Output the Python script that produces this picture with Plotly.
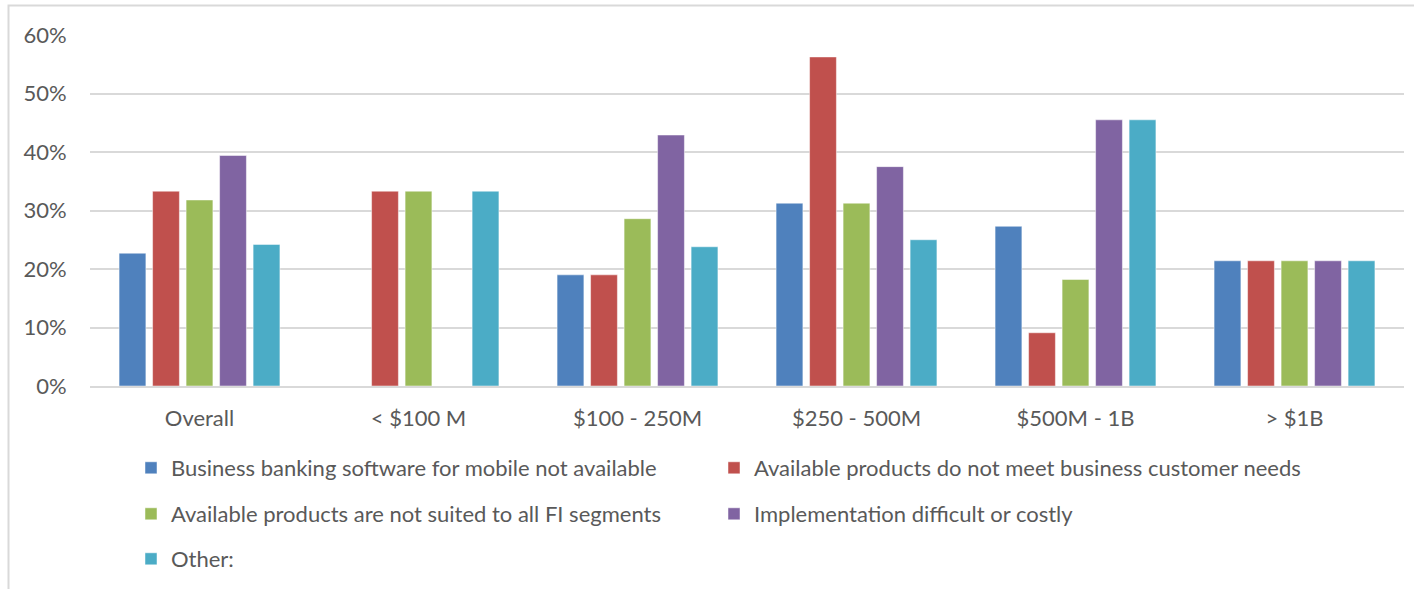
import plotly.graph_objects as go

# ---------------------------------------------------------------------------
# Data (percent of respondents)
# ---------------------------------------------------------------------------

CATEGORIES = ["Overall", "< $100 M", "$100 - 250M", "$250 - 500M", "$500M - 1B", "> $1B"]

SOFTWARE_NOT_AVAILABLE = [22.7, 0.0, 19.0, 31.25, 27.3, 21.4]
NOT_MEET_NEEDS = [33.3, 33.3, 19.0, 56.25, 9.1, 21.4]
NOT_SUITED = [31.8, 33.3, 28.6, 31.25, 18.2, 21.4]
IMPLEMENTATION = [39.4, 0.0, 42.9, 37.5, 45.5, 21.4]
OTHER = [24.2, 33.3, 23.8, 25.0, 45.5, 21.4]

SERIES_NAMES = [
    "Business banking software for mobile not available",
    "Available products do not meet business customer needs",
    "Available products are not suited to all FI segments",
    "Implementation difficult or costly",
    "Other:",
]
SERIES_VALUES = [SOFTWARE_NOT_AVAILABLE, NOT_MEET_NEEDS, NOT_SUITED, IMPLEMENTATION, OTHER]
SERIES_COLORS = ["#4F81BD", "#C0504D", "#9BBB59", "#8064A2", "#4BACC6"]

Y_TICKS = [0, 10, 20, 30, 40, 50, 60]

W, H = 1414, 589
FONT = "Lato"
TEXT = "#595959"
GRID = "#D9D9D9"
FS = 22

# legend entries laid out in two columns, three rows (pixel anchors of swatches)
LEGEND_SLOTS = [(147, 469), (730, 469), (147, 515), (730, 515), (147, 560)]

fig = go.Figure()
legends = {}
for i, (name, vals, color) in enumerate(zip(SERIES_NAMES, SERIES_VALUES, SERIES_COLORS)):
    key = "legend" if i == 0 else f"legend{i + 1}"
    fig.add_trace(go.Bar(
        x=CATEGORIES, y=vals, name=name,
        marker=dict(color=color, line=dict(width=0.8, color="rgba(255,255,255,0.6)")),
        legend=key,
    ))
    px_x, px_y = LEGEND_SLOTS[i]
    legends[key] = dict(
        xref="container", yref="container",
        x=(px_x - 16) / W, y=1 - (px_y - 1) / H,
        xanchor="left", yanchor="middle",
        font=dict(family=FONT, size=FS, color=TEXT),
        bgcolor="rgba(0,0,0,0)",
        itemclick=False, itemdoubleclick=False,
    )

fig.update_layout(
    width=W, height=H,
    paper_bgcolor="white", plot_bgcolor="white",
    font=dict(family=FONT, size=FS, color=TEXT),
    margin=dict(l=90, r=10, t=35, b=203, autoexpand=False),
    barmode="group",
    bargap=0.235,
    bargroupgap=0.2,
    showlegend=True,
    **legends,
    shapes=[dict(
        type="rect", xref="paper", yref="paper",
        x0=(8.5 - 90) / 1314, x1=(1440 - 90) / 1314,
        y0=(386 - 620) / 351, y1=(386 - 5.5) / 351,
        line=dict(color=GRID, width=2), layer="below",
    )],
)

fig.update_xaxes(
    showgrid=False, showline=True, linecolor=GRID, linewidth=2,
    ticks="outside", ticklen=12, tickcolor="rgba(0,0,0,0)",
    tickfont=dict(family=FONT, size=FS, color=TEXT),
)
fig.update_yaxes(
    range=[0, 60], tickvals=Y_TICKS, ticktext=[f"{v}%" for v in Y_TICKS],
    showgrid=True, gridcolor=GRID, gridwidth=1.5, zeroline=False,
    showline=False, ticks="outside", ticklen=18, tickcolor="rgba(0,0,0,0)",
    tickfont=dict(family=FONT, size=FS, color=TEXT),
)

# the default page adds an 8px body margin; drop it so the figure fills the window
fig.write_html(
    "out.html",
    config={"displayModeBar": False},
    post_script="document.body.style.margin='0';",
)
